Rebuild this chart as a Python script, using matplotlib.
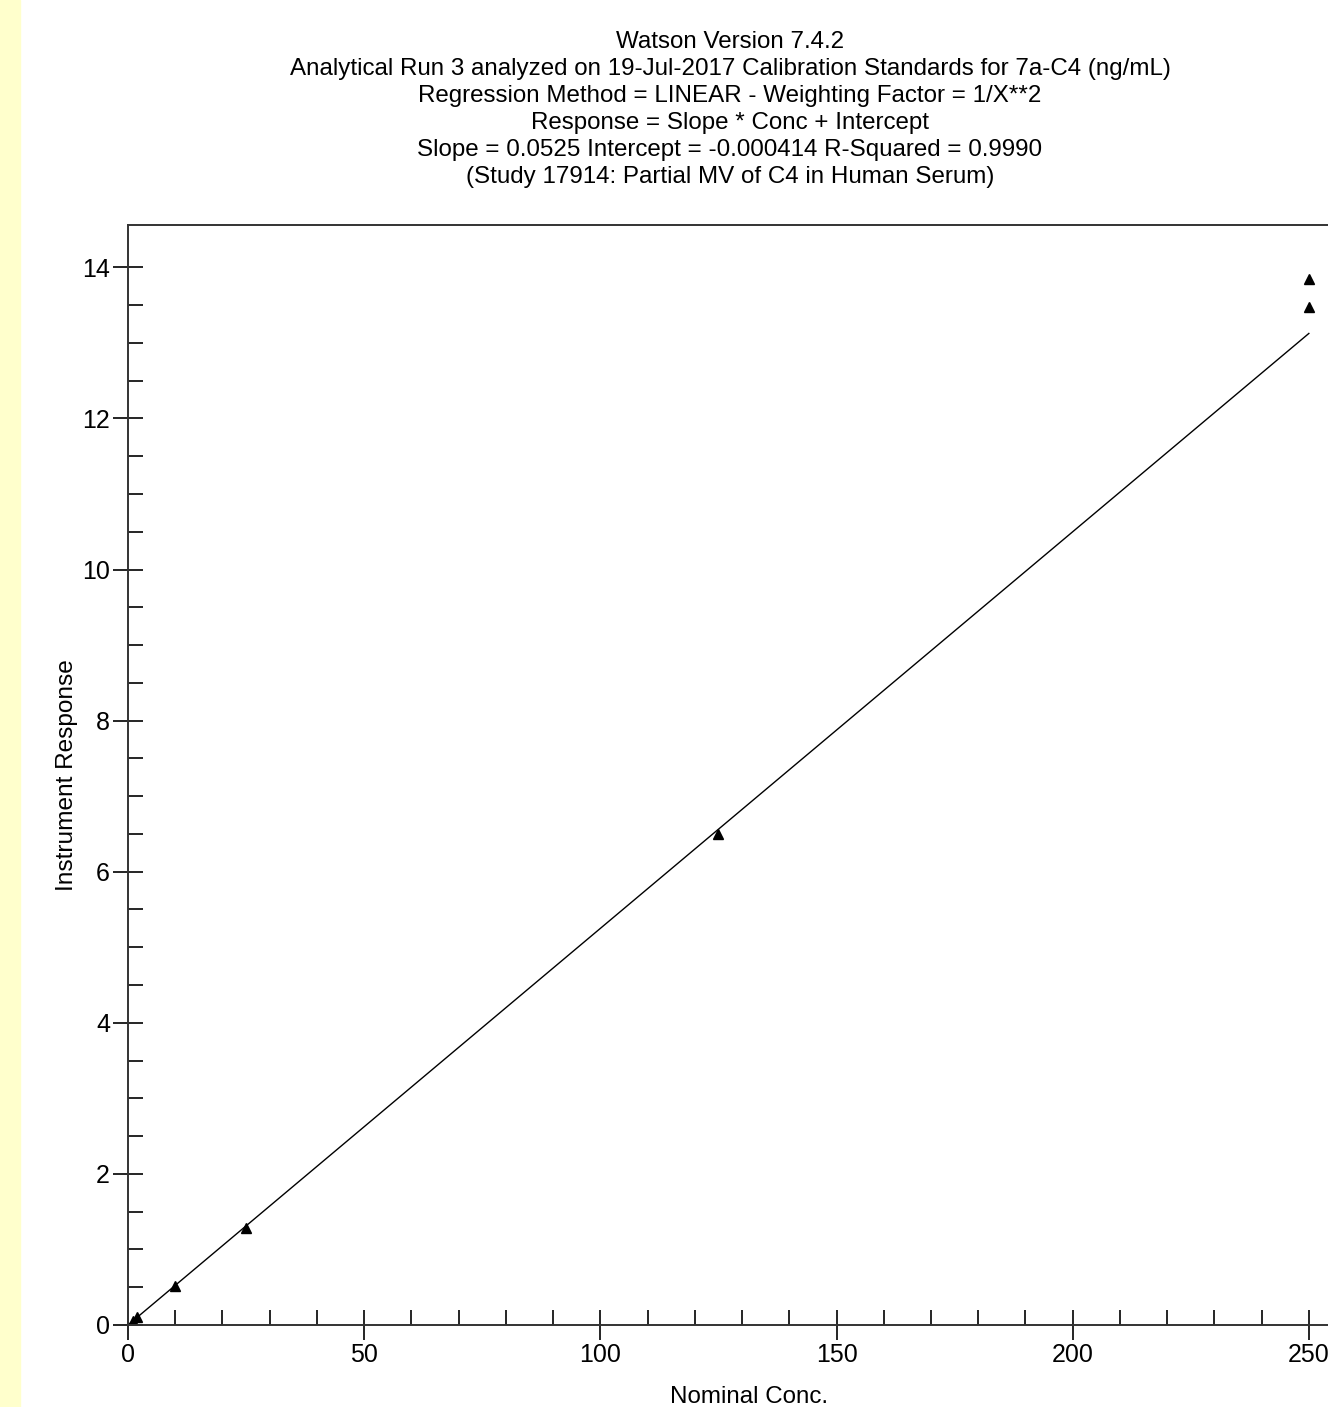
import matplotlib.pyplot as plt
import matplotlib.patches as patches
from matplotlib.ticker import MultipleLocator, FixedLocator
import numpy as np

plt.rcParams['font.family'] = ['Liberation Sans', 'DejaVu Sans']

# Kalibrierstandards (Nominal Conc. / Instrument Response)
conc = [1, 2, 10, 25, 125, 250, 250]
response = [0.05, 0.10, 0.52, 1.28, 6.50, 13.47, 13.85]

# Regressionsparameter aus dem Titel
slope = 0.0525
intercept = -0.000414

title_lines = [
    "Watson Version 7.4.2",
    "Analytical Run 3 analyzed on 19-Jul-2017 Calibration Standards for 7a-C4 (ng/mL)",
    "Regression Method = LINEAR - Weighting Factor = 1/X**2",
    "Response = Slope * Conc + Intercept",
    "Slope = 0.0525 Intercept = -0.000414 R-Squared = 0.9990",
    "(Study 17914: Partial MV of C4 in Human Serum)",
]

fig = plt.figure(figsize=(13.28, 14.07), dpi=100)

# gelber Streifen am linken Rand
fig.patches.append(patches.Rectangle((0, 0), 20 / 1328, 1, transform=fig.transFigure,
                                     color="#ffffcc", zorder=0))

ax = fig.add_axes([128 / 1328, 82 / 1407, 1204 / 1328, 1100 / 1407])

xfit = np.linspace(0, 250, 400)
ax.plot(xfit, slope * xfit + intercept, color="black", linewidth=1.0)
ax.plot(conc, response, linestyle="none", marker="^", color="black", markersize=6.5)

ax.set_xlim(0, 254.9)
ax.set_ylim(0, 14.56)
ax.xaxis.set_major_locator(MultipleLocator(50))
ax.xaxis.set_minor_locator(MultipleLocator(10))
ax.yaxis.set_major_locator(MultipleLocator(2))
ax.yaxis.set_minor_locator(FixedLocator(np.arange(0, 14.01, 0.5)))
ax.tick_params(which="major", direction="inout", length=22, width=1.2, labelsize=18, pad=2)
ax.tick_params(which="minor", direction="in", length=11, width=1.2)
for sp in ax.spines.values():
    sp.set_linewidth(1.4)
    sp.set_color("#333333")

ax.set_xlabel("Nominal Conc.", fontsize=17.4)
ax.set_ylabel("Instrument Response", fontsize=17.6)
ax.xaxis.set_label_coords((749 - 128) / 1204, -61 / 1100)
ax.yaxis.set_label_coords(-50 / 1204, 0.5)

fig.text(730 / 1328, 1 - 31 / 1407, "\n".join(title_lines), ha="center", va="top",
         fontsize=17.4, linespacing=1.29)

fig.savefig("out.png", dpi=100)
